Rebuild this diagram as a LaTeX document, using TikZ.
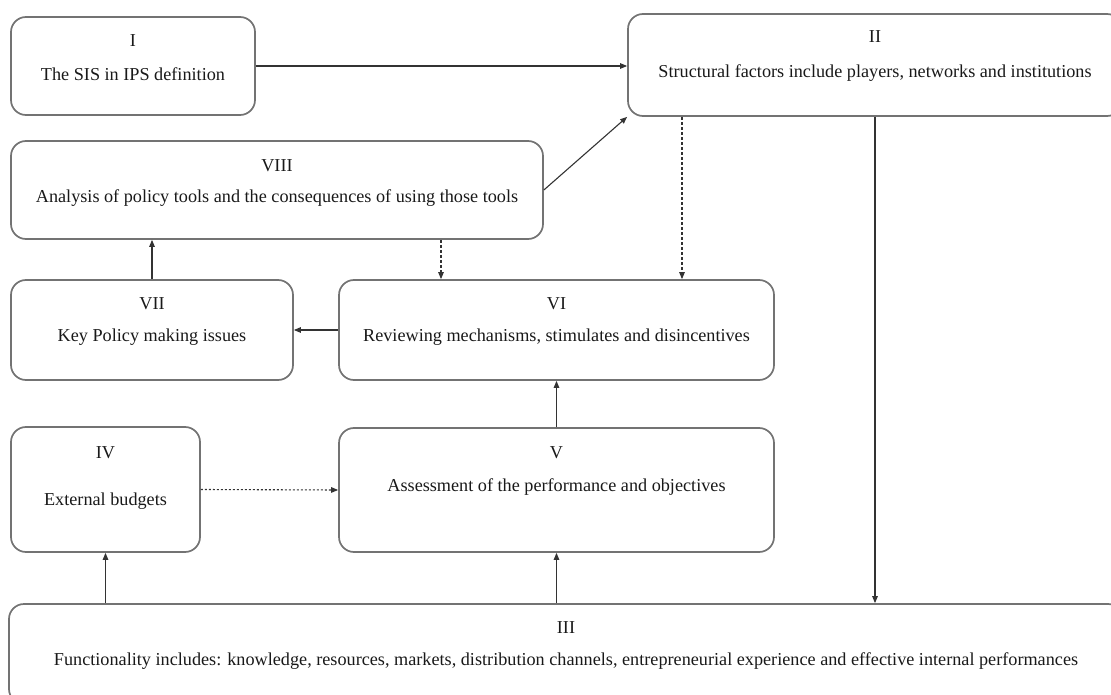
\documentclass[tikz,border=0pt]{standalone}
\usepackage{fontspec}
\setmainfont{Liberation Serif}
\usetikzlibrary{arrows.meta}
\begin{document}
\begin{tikzpicture}[x=1pt,y=-1pt,
  box/.style={draw=black!55,line width=1.7pt,rounded corners=15pt,inner sep=0pt},
  lbl/.style={anchor=base,inner sep=0pt,text=black!90,font=\fontsize{18.2}{20}\selectfont},
  arr/.style={draw=black!80,line width=1.1pt,-{Triangle[length=7pt,width=5.5pt]}},
  darr/.style={arr,dash pattern=on 3pt off 2pt},
  dotarr/.style={arr,dash pattern=on 2pt off 2pt}]
\useasboundingbox (0,0) rectangle (1111,695);
\clip (0,0) rectangle (1111,695);
% boxes
\node[box,minimum width=244pt,minimum height=98pt] (b1) at (133,66) {};
\node[box,minimum width=494pt,minimum height=102pt] (b2) at (875,65) {};
\node[box,minimum width=532pt,minimum height=98pt] (b8) at (277,190) {};
\node[box,minimum width=282pt,minimum height=100pt] (b7) at (152,330) {};
\node[box,minimum width=435pt,minimum height=100pt] (b6) at (556.5,330) {};
\node[box,minimum width=189pt,minimum height=125pt] (b4) at (105.5,489.5) {};
\node[box,minimum width=435pt,minimum height=124pt] (b5) at (556.5,490) {};
\node[box,minimum width=1114pt,minimum height=100pt] (b3) at (566,654) {};
% labels
\node[lbl] (t1) at (133,47) {I};
\node[lbl] (s1) at (133,81) {The SIS in IPS definition};
\node[lbl] (t2) at (875,43) {II};
\node[lbl] (s2) at (875,78) {Structural factors include players, networks and institutions};
\node[lbl] (t8) at (277,172) {VIII};
\node[lbl] (s8) at (277,203) {Analysis of policy tools and the consequences of using those tools};
\node[lbl] (t7) at (152,309) {VII};
\node[lbl] (s7) at (152,341) {Key Policy making issues};
\node[lbl] (t6) at (556.5,309) {VI};
\node[lbl] (s6) at (556.5,341) {Reviewing mechanisms, stimulates and disincentives};
\node[lbl] (t4) at (105.5,458) {IV};
\node[lbl] (s4) at (105.5,505) {External budgets};
\node[lbl] (t5) at (556.5,458) {V};
\node[lbl] (s5) at (556.5,491) {Assessment of the performance and objectives};
\node[lbl] (t3) at (566,633) {III};
\node[lbl] (s3) at (566,665) {Functionality includes: knowledge, resources, markets, distribution channels, entrepreneurial experience and effective internal performances};
% helper coordinates
\coordinate (c26) at (682,0);
\coordinate (c86) at (441,0);
% connectors
\draw[arr] (b1.east) -- (b1.east -| b2.west);
\draw[arr] (b8.east) -- (b2.south west);
\draw[darr] (c26 |- b2.south) -- (c26 |- b6.north);
\draw[darr] (c86 |- b8.south) -- (c86 |- b6.north);
\draw[arr] (b6.west) -- (b7.east);
\draw[arr] (b7.north) -- (b7.north |- b8.south);
\draw[dotarr] (b4.east) -- (b5.west);
\draw[arr] (b5.north) -- (b6.south);
\draw[arr] (b4.south |- b3.north) -- (b4.south);
\draw[arr] (b5.south |- b3.north) -- (b5.south);
\draw[arr] (b2.south) -- (b2.south |- b3.north);
\end{tikzpicture}
\end{document}
